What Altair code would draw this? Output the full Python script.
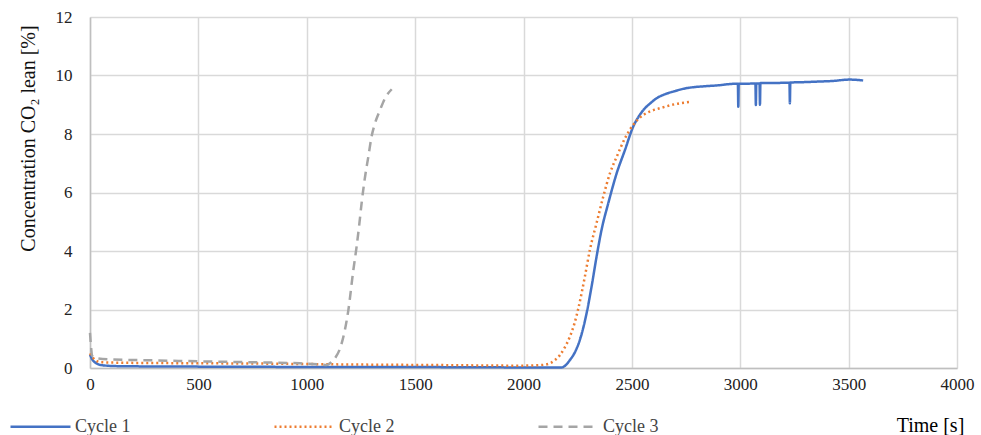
import altair as alt
import pandas as pd

# ---- data ----
c1_t = [0, 10, 25, 60, 150, 400, 800, 1200, 1600, 2000, 2176, 2195, 2214, 2238, 2260, 2276, 2291, 2314, 2337, 2360,
        2391, 2430, 2468, 2506, 2530, 2553, 2585, 2614, 2660, 2691, 2740, 2783, 2814, 2891, 2983, 2989, 2991, 2993,
        3030, 3070, 3072, 3074, 3089, 3091, 3093, 3150, 3200, 3227, 3229, 3231, 3280, 3352, 3420, 3506, 3567]
c1_v = [0.45, 0.3, 0.18, 0.09, 0.06, 0.05, 0.04, 0.03, 0.03, 0.02, 0.02, 0.1, 0.27, 0.55, 0.96, 1.38, 1.87, 2.78, 3.8,
        4.72, 5.63, 6.66, 7.45, 8.25, 8.58, 8.82, 9.05, 9.22, 9.38, 9.45, 9.55, 9.6, 9.62, 9.66, 9.72, 9.72, 8.93, 9.72,
        9.72, 9.73, 8.99, 9.73, 9.73, 9.0, 9.74, 9.74, 9.75, 9.75, 9.05, 9.76, 9.77, 9.79, 9.81, 9.86, 9.83]

c2_t = [0, 10, 25, 50, 150, 300, 800, 1200, 1600, 1984, 2080, 2122, 2145, 2168, 2190, 2214, 2235, 2253, 2283, 2306,
        2337, 2368, 2399, 2430, 2468, 2506, 2553, 2590, 2629, 2706, 2776]
c2_v = [0.5, 0.38, 0.27, 0.2, 0.18, 0.17, 0.15, 0.12, 0.1, 0.08, 0.1, 0.16, 0.27, 0.44, 0.7, 1.07, 1.52, 2.04, 3.12,
        4.03, 4.95, 5.86, 6.66, 7.22, 7.85, 8.31, 8.65, 8.79, 8.88, 9.03, 9.1]

c3_t = [0, 4, 10, 30, 100, 300, 568, 800, 969, 1060, 1092, 1110, 1130, 1161, 1192, 1215, 1230, 1243, 1253, 1269,
        1284, 1299, 1315, 1338, 1361, 1392]
c3_v = [1.2, 0.8, 0.42, 0.33, 0.29, 0.26, 0.22, 0.19, 0.16, 0.12, 0.1, 0.18, 0.33, 0.84, 1.98, 3.35, 4.15, 4.95,
        5.63, 6.54, 7.22, 7.91, 8.37, 8.82, 9.22, 9.53]

series = ["Cycle 1", "Cycle 2", "Cycle 3"]
colors = ["#4472C4", "#ED7D31", "#A5A5A5"]
dashes = [[1, 0], [2, 3], [9, 6]]
x_ticks = [0, 500, 1000, 1500, 2000, 2500, 3000, 3500, 4000]
y_ticks = [0, 2, 4, 6, 8, 10, 12]

rows = []
for name, ts, vs in zip(series, [c1_t, c2_t, c3_t], [c1_v, c2_v, c3_v]):
    for i, (t, v) in enumerate(zip(ts, vs)):
        rows.append({"series": name, "t": t, "v": v, "i": i})
df = pd.DataFrame(rows)

FONT = "Liberation Serif"

legend = alt.Legend(title=None, orient="none", legendX=-81, legendY=378,
                    direction="horizontal", columns=3, columnPadding=138,
                    symbolType="stroke", symbolSize=3600, symbolStrokeWidth=2.5,
                    labelFontSize=18, labelColor="#444444", labelOffset=3,
                    labelFont=FONT)

chart = alt.Chart(df).mark_line(strokeWidth=2.5, interpolate="monotone").encode(
    x=alt.X("t:Q", scale=alt.Scale(domain=[0, 4000], nice=False),
            axis=alt.Axis(values=x_ticks, format="d", title="Time [s]", titleX=840, titleY=57,
                          titleAlign="center", titleBaseline="middle", titleAnchor="start",
                          titleFont=FONT, titleFontSize=20, titleFontWeight="normal", titleColor="#000000",
                          labelFont=FONT, labelFontSize=17, labelColor="#222222", labelPadding=8,
                          ticks=False, domainColor="#BFBFBF", domainWidth=1.5,
                          gridColor="#D9D9D9", gridWidth=1.5, labelFlush=False)),
    y=alt.Y("v:Q", scale=alt.Scale(domain=[0, 12], nice=False),
            axis=alt.Axis(values=y_ticks, format="d", title="Concentration CO₂ lean [%]",
                          titleX=-62, titleY=121, titleAngle=-90, titleAlign="center",
                          titleBaseline="middle", titleAnchor="start",
                          titleFont=FONT, titleFontSize=20, titleFontWeight="normal", titleColor="#111111",
                          labelFont=FONT, labelFontSize=17, labelColor="#222222", labelPadding=18,
                          ticks=False, domainColor="#BFBFBF", domainWidth=1.5,
                          gridColor="#D9D9D9", gridWidth=1.5)),
    color=alt.Color("series:N", scale=alt.Scale(domain=series, range=colors), legend=legend),
    strokeDash=alt.StrokeDash("series:N", scale=alt.Scale(domain=series, range=dashes), legend=legend),
    order="i:Q",
).properties(
    width=867, height=351,
    autosize=alt.AutoSizeParams(type="none"),
    padding={"left": 90, "top": 17, "right": 24, "bottom": 67},
).configure(font=FONT).configure_view(stroke=None)

chart.save("out.html", embed_options={"renderer": "svg", "actions": False})
